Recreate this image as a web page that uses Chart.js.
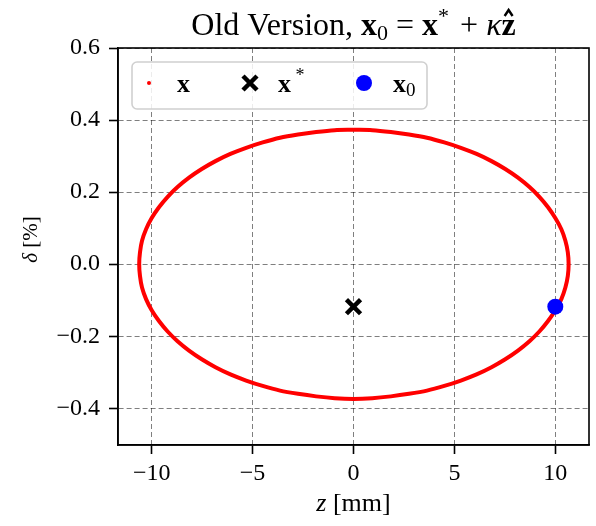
<!DOCTYPE html>
<html>
<head>
<meta charset="utf-8">
<script src="https://cdn.jsdelivr.net/npm/chart.js@4/dist/chart.umd.min.js"></script>
<style>
  html, body { margin: 0; padding: 0; background: #fff; }
  #wrap { width: 596px; height: 526px; }
</style>
</head>
<body>
<div id="wrap"><canvas id="orbitChart" width="596" height="526"></canvas></div>
<script>
// orbit points (z in mm, delta in %)
const ringZ = [0, -0.93, -1.85, -2.75, -3.64, -4.50, -5.32, -6.10, -6.84, -7.52, -8.15, -8.72, -9.21, -9.64,
               -10.00, -10.28, -10.48, -10.58, -10.62,
               -10.58, -10.48, -10.28, -10.00, -9.64, -9.21, -8.72, -8.15, -7.52, -6.84, -6.10, -5.32,
               -4.50, -3.64, -2.75, -1.85, -0.93, 0,
               0.93, 1.85, 2.75, 3.64, 4.50, 5.32, 6.10, 6.84, 7.52, 8.15, 8.72, 9.21, 9.64,
               10.00, 10.30, 10.50, 10.62, 10.66,
               10.62, 10.50, 10.30, 10.00, 9.64, 9.21, 8.72, 8.15, 7.52, 6.84, 6.10, 5.32,
               4.50, 3.64, 2.75, 1.85, 0.93, 0];
const ringDelta = [0.373, 0.372, 0.367, 0.360, 0.351, 0.338, 0.323, 0.306, 0.286, 0.264, 0.240, 0.214, 0.187, 0.158,
                   0.128, 0.097, 0.065, 0.033, 0,
                   -0.033, -0.065, -0.097, -0.128, -0.158, -0.187, -0.214, -0.240, -0.264, -0.286, -0.306, -0.323,
                   -0.338, -0.351, -0.360, -0.367, -0.372, -0.374,
                   -0.372, -0.367, -0.360, -0.351, -0.338, -0.323, -0.306, -0.286, -0.264, -0.240, -0.214, -0.187, -0.158,
                   -0.128, -0.097, -0.065, -0.033, 0,
                   0.033, 0.065, 0.097, 0.128, 0.158, 0.187, 0.214, 0.240, 0.264, 0.286, 0.306, 0.323,
                   0.338, 0.351, 0.360, 0.367, 0.372, 0.373];
const starZ = [0];
const starDelta = [-0.118];
const startZ = [10.0];
const startDelta = [-0.118];
const zTicks = [-10, -5, 0, 5, 10];
const deltaTicks = [-0.4, -0.2, 0.0, 0.2, 0.4, 0.6];

const serif = '"Liberation Serif", "DejaVu Serif", serif';

const toPoints = (xs, ys) => xs.map((x, i) => ({ x: x, y: ys[i] }));
const minusFmt = (s) => s.replace('-', '\u2212');

// draws a row of text pieces with their own fonts
function drawRuns(ctx, runs, x, y, align) {
    let total = 0;
    runs.forEach(r => { ctx.font = r.font; r.w = ctx.measureText(r.t).width; total += r.w; });
    let cx = align === 'center' ? x - total / 2 : x;
    runs.forEach(r => {
        ctx.font = r.font;
        ctx.fillText(r.t, cx, y + (r.dy || 0));
        if (r.hat) {
            const top = y - r.hat;
            ctx.beginPath();
            ctx.moveTo(cx + r.w * 0.22, top);
            ctx.lineTo(cx + r.w * 0.5, top - 6);
            ctx.lineTo(cx + r.w * 0.78, top);
            ctx.lineWidth = 2.4;
            ctx.stroke();
        }
        cx += r.w;
    });
}

function drawCross(ctx, x, y) {
    ctx.save();
    ctx.strokeStyle = '#000';
    ctx.lineWidth = 4.5;
    ctx.beginPath();
    ctx.moveTo(x - 7, y - 7); ctx.lineTo(x + 7, y + 7);
    ctx.moveTo(x - 7, y + 7); ctx.lineTo(x + 7, y - 7);
    ctx.stroke();
    ctx.restore();
}

const decorPlugin = {
    id: 'decor',
    afterDraw(chart) {
        const ctx = chart.ctx;
        const area = chart.chartArea;
        ctx.save();

        // frame on all four sides
        ctx.strokeStyle = '#000';
        ctx.lineWidth = 1.6;
        ctx.strokeRect(area.left, area.top, area.right - area.left, area.bottom - area.top);

        ctx.fillStyle = '#000';
        ctx.strokeStyle = '#000';
        ctx.textBaseline = 'alphabetic';

        // title
        drawRuns(ctx, [
            { t: 'Old Version, ', font: `32px ${serif}` },
            { t: 'x', font: `bold 32px ${serif}` },
            { t: '0', font: `22px ${serif}`, dy: 5 },
            { t: '\u2005=\u2005', font: `32px ${serif}` },
            { t: 'x', font: `bold 32px ${serif}` },
            { t: '*\u2002', font: `22px ${serif}`, dy: -12 },
            { t: '+\u2005', font: `32px ${serif}` },
            { t: '\u03BA', font: `italic 32px ${serif}` },
            { t: 'z', font: `bold 32px ${serif}`, hat: 19 }
        ], (area.left + area.right) / 2, 35, 'center');

        // axis titles
        drawRuns(ctx, [
            { t: 'z', font: `italic 26px ${serif}` },
            { t: ' [mm]', font: `26px ${serif}` }
        ], (area.left + area.right) / 2, 511, 'center');

        ctx.save();
        ctx.translate(37, (area.top + area.bottom) / 2 - 7);
        ctx.rotate(-Math.PI / 2);
        drawRuns(ctx, [
            { t: '\u03B4', font: `italic 21px ${serif}` },
            { t: ' [%]', font: `21px ${serif}` }
        ], 0, 0, 'center');
        ctx.restore();

        // legend box
        ctx.beginPath();
        ctx.roundRect(132, 62, 295, 47, 5);
        ctx.fillStyle = 'rgba(255,255,255,0.85)';
        ctx.fill();
        ctx.strokeStyle = '#d0d0d0';
        ctx.lineWidth = 1.6;
        ctx.stroke();

        ctx.fillStyle = '#ff0000';
        ctx.beginPath();
        ctx.arc(149, 83, 2, 0, Math.PI * 2);
        ctx.fill();

        drawCross(ctx, 250, 83);

        ctx.fillStyle = '#0000ff';
        ctx.beginPath();
        ctx.arc(364, 83, 8, 0, Math.PI * 2);
        ctx.fill();

        ctx.fillStyle = '#000';
        drawRuns(ctx, [{ t: 'x', font: `bold 26px ${serif}` }], 177, 92, 'left');
        drawRuns(ctx, [
            { t: 'x', font: `bold 26px ${serif}` },
            { t: ' *', font: `18px ${serif}`, dy: -11 }
        ], 278, 92, 'left');
        drawRuns(ctx, [
            { t: 'x', font: `bold 26px ${serif}` },
            { t: '0', font: `19px ${serif}`, dy: 4 }
        ], 393, 92, 'left');

        ctx.restore();
    }
};

new Chart(document.getElementById('orbitChart'), {
    type: 'scatter',
    data: {
        datasets: [
            {
                label: 'x',
                data: toPoints(ringZ, ringDelta),
                showLine: true,
                tension: 0.3,
                borderColor: '#ff0000',
                borderWidth: 4,
                pointRadius: 0,
                order: 3
            },
            {
                label: 'x*',
                data: toPoints(starZ, starDelta),
                pointStyle: 'crossRot',
                pointRadius: 10,
                borderWidth: 4.5,
                borderColor: '#000',
                backgroundColor: '#000',
                order: 2
            },
            {
                label: 'x0',
                data: toPoints(startZ, startDelta),
                pointStyle: 'circle',
                pointRadius: 8,
                borderWidth: 0,
                backgroundColor: '#0000ff',
                order: 1
            }
        ]
    },
    options: {
        responsive: false,
        animation: false,
        layout: { autoPadding: false, padding: { top: 48, right: 7, left: 0, bottom: 0 } },
        plugins: {
            legend: { display: false },
            tooltip: { enabled: false }
        },
        scales: {
            x: {
                min: -11.67,
                max: 11.67,
                afterBuildTicks: (scale) => { scale.ticks = zTicks.map(v => ({ value: v })); },
                afterFit: (scale) => {
                    scale.height = 81;
                    scale.paddingLeft = 0;
                    scale.paddingRight = 0;
                },
                ticks: {
                    font: { family: serif, size: 24 },
                    color: '#000',
                    padding: 5,
                    maxRotation: 0,
                    callback: (v) => minusFmt(String(v))
                },
                grid: {
                    color: 'rgba(0,0,0,0.5)',
                    lineWidth: 1,
                    tickLength: 9,
                    tickColor: '#000',
                    tickWidth: 1.6
                },
                border: { color: '#000', width: 1.6, dash: [5, 3] }
            },
            y: {
                min: -0.502,
                max: 0.6,
                afterBuildTicks: (scale) => { scale.ticks = deltaTicks.map(v => ({ value: v })); },
                afterFit: (scale) => {
                    scale.width = 118;
                    scale.paddingTop = 0;
                    scale.paddingBottom = 0;
                },
                ticks: {
                    font: { family: serif, size: 24 },
                    color: '#000',
                    padding: 9,
                    callback: (v) => minusFmt(Number(v).toFixed(1))
                },
                grid: {
                    color: 'rgba(0,0,0,0.5)',
                    lineWidth: 1,
                    tickLength: 9,
                    tickColor: '#000',
                    tickWidth: 1.6
                },
                border: { color: '#000', width: 1.6, dash: [5, 3] }
            }
        }
    },
    plugins: [decorPlugin]
});
</script>
</body>
</html>
